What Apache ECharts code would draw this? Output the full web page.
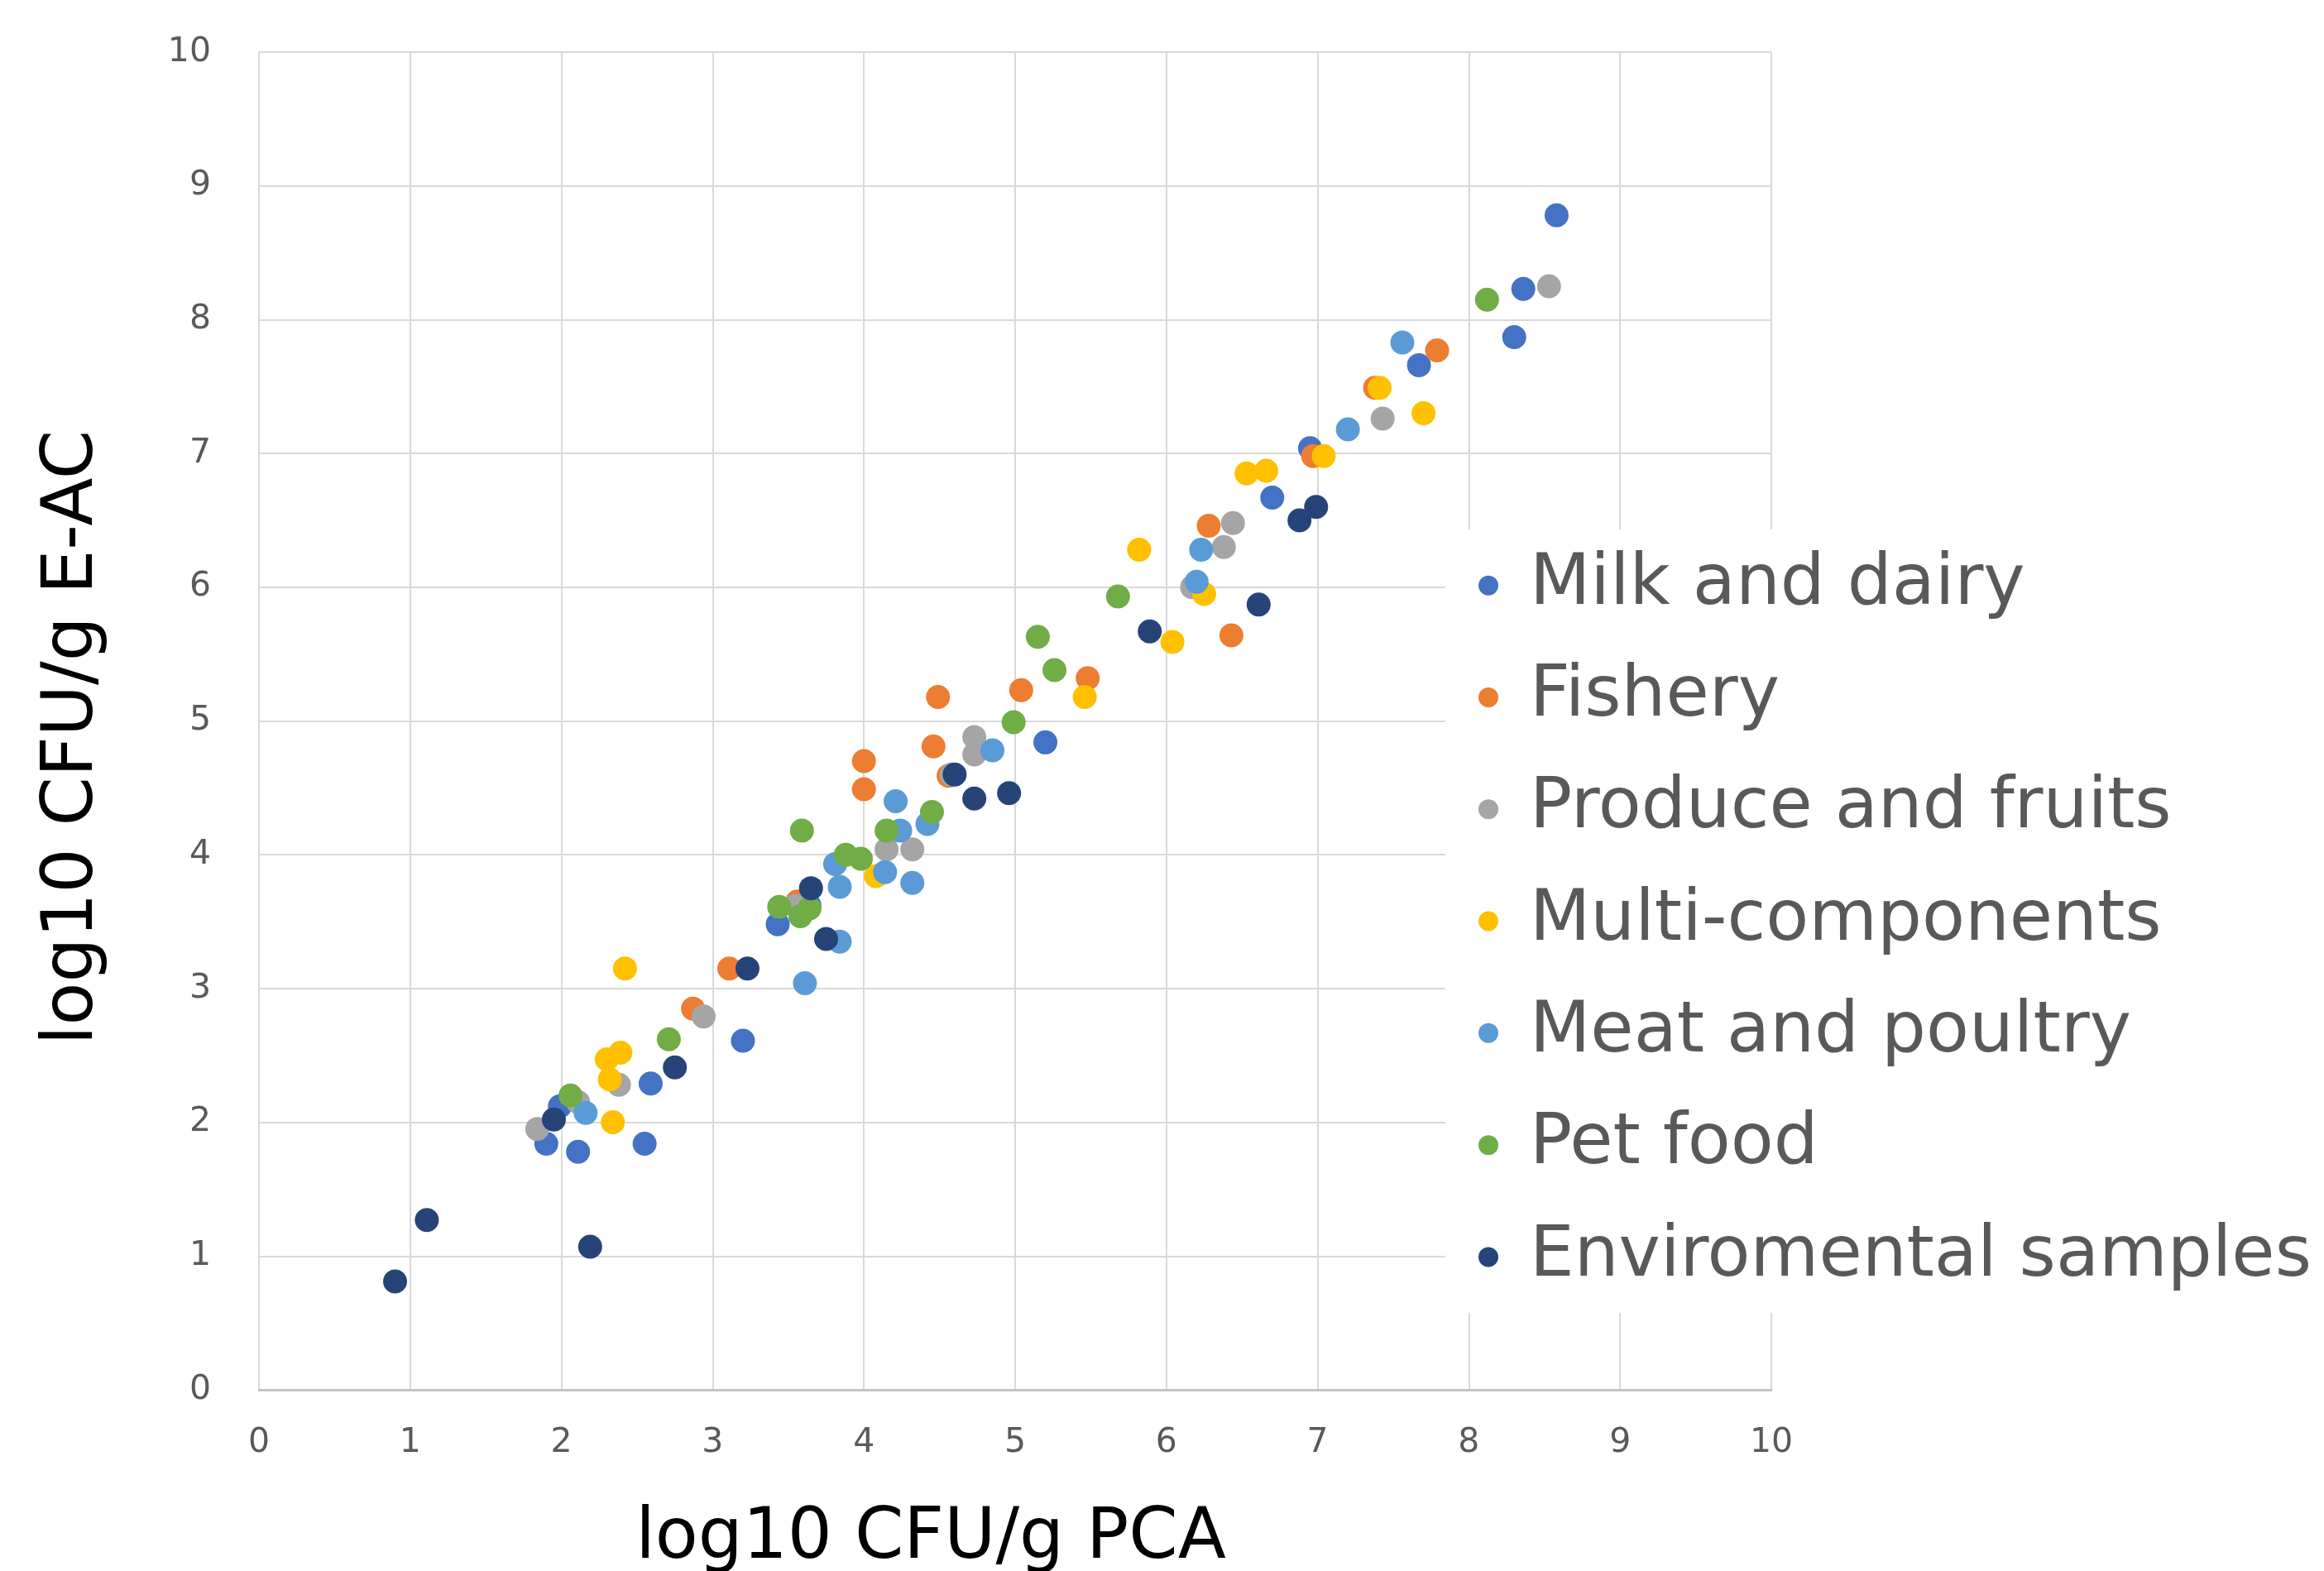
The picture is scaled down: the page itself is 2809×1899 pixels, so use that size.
<!DOCTYPE html>
<html>
<head>
<meta charset="utf-8">
<script src="https://cdn.jsdelivr.net/npm/echarts@6/dist/echarts.min.js"></script>
<style>
html,body{margin:0;padding:0;background:#fff;}
#chart{width:2809px;height:1899px;}
</style>
</head>
<body>
<div id="chart"></div>
<script>
// Series names (legend order)
const seriesNames = ["Milk and dairy","Fishery","Produce and fruits","Multi-components","Meat and poultry","Pet food","Enviromental samples"];
const seriesColors = ["#4472C4","#ED7D31","#A5A5A5","#FFC000","#5B9BD5","#70AD47","#264478"];

// [log10 CFU/g PCA, log10 CFU/g E-AC]
const milkAndDairy = [[8.58,8.78],[8.36,8.23],[8.30,7.87],[7.67,7.66],[6.95,7.04],[6.70,6.67],[5.20,4.84],[3.64,3.62],[3.43,3.48],[3.20,2.61],[2.59,2.29],[1.99,2.12],[1.90,1.84],[2.11,1.78],[2.55,1.84]];
const fishery = [[7.79,7.77],[7.38,7.49],[6.97,6.98],[6.28,6.46],[6.43,5.64],[5.48,5.32],[5.04,5.23],[4.49,5.18],[4.46,4.81],[4.00,4.70],[4.00,4.49],[4.56,4.59],[3.56,3.65],[3.11,3.15],[2.87,2.85]];
const produceAndFruits = [[8.53,8.25],[7.43,7.26],[6.44,6.48],[6.38,6.30],[6.17,6.00],[4.73,4.88],[4.73,4.75],[4.58,4.60],[4.15,4.04],[4.32,4.04],[3.55,3.62],[2.94,2.79],[2.38,2.28],[2.11,2.15],[1.84,1.95]];
const multiComponents = [[7.41,7.49],[7.70,7.30],[7.04,6.98],[6.53,6.85],[6.66,6.87],[5.82,6.28],[6.25,5.95],[6.04,5.59],[5.46,5.18],[4.08,3.84],[2.42,3.15],[2.39,2.52],[2.30,2.47],[2.32,2.32],[2.34,2.00]];
const meatAndPoultry = [[7.56,7.83],[7.20,7.18],[6.23,6.28],[6.20,6.04],[4.85,4.78],[4.21,4.40],[4.42,4.23],[4.24,4.18],[4.14,3.87],[4.32,3.79],[3.81,3.93],[3.84,3.76],[3.84,3.35],[3.61,3.04],[2.16,2.07]];
const petFood = [[8.12,8.15],[5.68,5.93],[5.15,5.63],[5.26,5.38],[4.99,4.99],[4.45,4.32],[4.15,4.18],[3.59,4.18],[3.88,4.00],[3.98,3.97],[3.44,3.61],[3.64,3.60],[3.58,3.54],[2.71,2.62],[2.06,2.20]];
const enviromentalSamples = [[6.99,6.60],[6.88,6.50],[6.61,5.87],[5.89,5.67],[4.60,4.60],[4.73,4.42],[4.96,4.46],[3.65,3.75],[3.75,3.37],[3.23,3.15],[2.75,2.41],[1.95,2.02],[1.11,1.27],[2.19,1.07],[0.90,0.81]];

const seriesData = [milkAndDairy, fishery, produceAndFruits, multiComponents, meatAndPoultry, petFood, enviromentalSamples];

const xAxisTitle = "log10 CFU/g PCA";
const yAxisTitle = "log10 CFU/g E-AC";

const FONT = "DejaVu Sans";
const chart = echarts.init(document.getElementById('chart'), null, {renderer:'canvas'});

chart.setOption({
  animation: false,
  backgroundColor: '#ffffff',
  color: seriesColors,
  grid: {left: 313, right: 668, top: 63, bottom: 219, containLabel: false, outerBoundsMode: 'none'},
  xAxis: {
    type: 'value', min: 0, max: 10, interval: 1,
    name: xAxisTitle, nameLocation: 'middle', nameGap: 138,
    nameTextStyle: {fontFamily: FONT, fontSize: 85, color: '#000', padding: [0, 204, 0, 0]},
    axisLine: {show: true, lineStyle: {color: '#bfbfbf', width: 2.5}},
    axisTick: {show: false},
    axisLabel: {fontFamily: FONT, fontSize: 41, color: '#595959', margin: 44},
    splitLine: {show: true, lineStyle: {color: '#d9d9d9', width: 2}}
  },
  yAxis: {
    type: 'value', min: 0, max: 10, interval: 1,
    name: yAxisTitle, nameLocation: 'middle', nameGap: 182, nameRotate: 90,
    nameTextStyle: {fontFamily: FONT, fontSize: 85, color: '#000', padding: [0, 40, 0, 0]},
    axisLine: {show: false},
    axisTick: {show: false},
    axisLabel: {fontFamily: FONT, fontSize: 41, color: '#595959', margin: 58},
    splitLine: {show: true, lineStyle: {color: '#d9d9d9', width: 2}}
  },
  legend: {
    orient: 'vertical',
    left: 1747, top: 640,
    backgroundColor: '#ffffff',
    padding: [0, 40, 0, 40],
    itemWidth: 90, itemHeight: 24, itemGap: 0,
    icon: 'circle',
    textStyle: {fontFamily: FONT, fontSize: 85, color: '#595959', lineHeight: 135.3},
    data: seriesNames
  },
  series: seriesNames.map((name, i) => ({
    name: name,
    type: 'scatter',
    symbol: 'circle',
    symbolSize: 29,
    itemStyle: {color: seriesColors[i], opacity: 1},
    data: seriesData[i]
  }))
});
</script>
</body>
</html>
